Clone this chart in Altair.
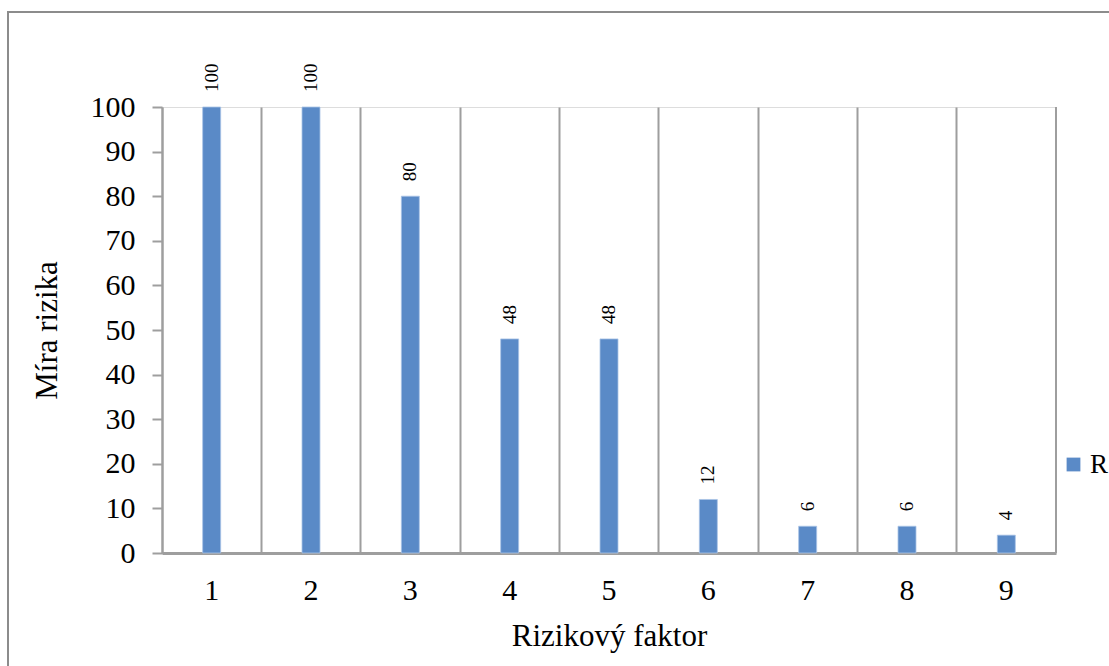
import altair as alt
import pandas as pd

# Risk factors and their risk scores
factors = ["1", "2", "3", "4", "5", "6", "7", "8", "9"]
risk = [100, 100, 80, 48, 48, 12, 6, 6, 4]
series = ["R"] * len(factors)

df = pd.DataFrame({"faktor": factors, "R": risk, "serie": series})

W, H = 894, 446
FONT = "Liberation Serif"
BLUE = "#5A8AC7"
GRAY = "#9E9E9E"

x_enc = alt.X(
    "faktor:N",
    sort=factors,
    scale=alt.Scale(paddingInner=0, paddingOuter=0),
    axis=alt.Axis(
        title="Rizikový faktor",
        labelAngle=0,
        labelFont=FONT,
        labelFontSize=30,
        labelColor="black",
        labelPadding=22,
        ticks=False,
        grid=True,
        bandPosition=0,
        gridColor=GRAY,
        gridWidth=2,
        domainColor=GRAY,
        domainWidth=3,
        titleFont=FONT,
        titleFontSize=31,
        titleFontWeight="normal",
        titleColor="black",
        titlePadding=16,
    ),
)

y_enc = alt.Y(
    "R:Q",
    scale=alt.Scale(domain=[0, 100], nice=False),
    axis=alt.Axis(
        title="Míra rizika",
        values=list(range(0, 101, 10)),
        grid=False,
        labelFont=FONT,
        labelFontSize=30,
        labelColor="black",
        labelPadding=17,
        tickSize=10,
        tickColor=GRAY,
        tickWidth=2,
        domainColor=GRAY,
        domainWidth=2,
        titleFont=FONT,
        titleFontSize=31,
        titleFontWeight="normal",
        titleColor="black",
        titlePadding=27,
    ),
)

bars = alt.Chart(df).mark_bar(size=18, stroke="#A9C4E6", strokeWidth=0.8).encode(
    x=x_enc,
    y=y_enc,
    color=alt.Color(
        "serie:N",
        scale=alt.Scale(range=[BLUE]),
        legend=alt.Legend(
            title=None,
            orient="none",
            legendX=898,
            legendY=344,
            padding=0,
            symbolType="square",
            symbolSize=190,
            symbolStrokeWidth=0,
            labelFont=FONT,
            labelFontSize=27,
            labelColor="black",
            labelOffset=3,
        ),
    ),
)

labels = alt.Chart(df).mark_text(
    angle=270, align="left", baseline="middle", dx=15, font=FONT, fontSize=19, color="black"
).encode(
    x=alt.X("faktor:N", sort=factors),
    y="R:Q",
    text="R:Q",
)

# closing line on the right side of the plot area
right_edge = alt.Chart(df).mark_rule(color=GRAY, strokeWidth=2).encode(
    x=alt.value(W), y=alt.value(0), y2=alt.value(H)
)

# outer chart frame
frame = alt.Chart(df).mark_rect(fill=None, stroke="#8C8C8C", strokeWidth=1.5, clip=False).encode(
    x=alt.value(-154), x2=alt.value(1000), y=alt.value(-95), y2=alt.value(700)
)

chart = (
    alt.layer(frame, bars, labels, right_edge)
    .properties(
        width=W,
        height=H,
        autosize=alt.AutoSizeParams(type="none"),
        padding={"left": 162, "top": 107, "right": 53, "bottom": 113},
    )
    .configure_view(stroke=None)
    .configure(background="white")
)

chart.save("out.html", embed_options={"renderer": "svg", "actions": False})
